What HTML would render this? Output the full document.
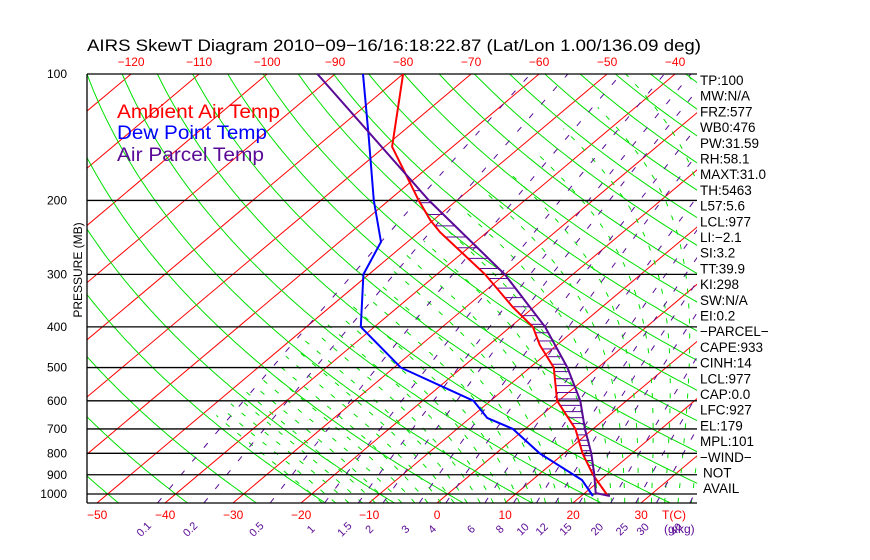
<!DOCTYPE html>
<html><head><meta charset="utf-8"><style>
html,body{margin:0;padding:0;background:#fff;}
svg{display:block;font-family:"Liberation Sans","DejaVu Sans",sans-serif;}
</style></head><body>
<svg id="c" width="870" height="560" viewBox="0 0 870 560">
<defs><clipPath id="plot"><rect x="87" y="74" width="610" height="429"/></clipPath></defs>
<g id="bg" clip-path="url(#plot)"></g>
<g id="grid"></g>
<g id="data" clip-path="url(#plot)"></g>
<g id="labels"></g>
</svg>
<script>
const pressureTicks=[100,200,300,400,500,600,700,800,900,1000];
const tempTicks=[-50,-40,-30,-20,-10,0,10,20,30];
const topTempTicks=[-120,-110,-100,-90,-80,-70,-60,-50,-40];
const mixRatios=[0.1,0.2,0.5,1,1.5,2,3,4,6,8,10,12,15,20,25,30,40];
const envP=[100,149,200,223,238,300,359,400,442,500,600,700,800,900,1011];
const envT=[-80,-68.9,-55.6,-50.4,-46.9,-32.9,-23.1,-16.7,-12.5,-6.5,-0.2,7.4,12.7,18.0,23.9];
const dewP=[100,141,200,251,300,400,500,600,659,700,800,926,1011];
const dewT=[-85.9,-74.1,-62.2,-53.9,-50.8,-42.0,-29.0,-12.5,-7.5,-1.8,6.4,17.3,21.7];
const parP=[100,200,300,400,500,600,700,800,900,995,1011];
const parT=[-92.6,-54.1,-30.0,-14.9,-4.5,3.2,8.8,14.0,18.2,21.6,24.2];
const stats=["TP:100","MW:N/A","FRZ:577","WB0:476","PW:31.59","RH:58.1","MAXT:31.0","TH:5463","L57:5.6","LCL:977","LI:\u22122.1","SI:3.2","TT:39.9","KI:298","SW:N/A","EI:0.2","\u2212PARCEL\u2212","CAPE:933","CINH:14","LCL:977","CAP:0.0","LFC:927","EL:179","MPL:101","\u2212WIND\u2212","NOT","AVAIL"];

const NS="http://www.w3.org/2000/svg";
const Y=p=>74+182.4*Math.log(p/100);
const X=(T,p)=>437+6.8*T+(503-Y(p))*1.189;
function el(tag,attrs,parent){const e=document.createElementNS(NS,tag);for(const k in attrs)e.setAttribute(k,attrs[k]);parent.appendChild(e);return e;}
const bg=document.getElementById('bg'),grid=document.getElementById('grid'),data=document.getElementById('data'),labels=document.getElementById('labels');
function poly(pts,stroke,w,dash,parent,name){const a={points:pts.map(q=>q[0].toFixed(1)+','+q[1].toFixed(1)).join(' '),fill:'none',stroke:stroke,'stroke-width':w};if(dash)a['stroke-dasharray']=dash;const e=el('polyline',a,parent);


return e;}
const plist=[];for(let p=1050;p>=100;p-=5)plist.push(p);
for(let T=-160;T<=50;T+=10){poly([[X(T,1050),Y(1050)],[X(T,100),Y(100)]],'#ff0000',1,null,bg,'isotherm');}
for(let th=-120;th<=200;th+=10){const K=th+273.15;poly(plist.map(p=>{const T=K*Math.pow(p/1000,0.2857)-273.15;return [X(T,p),Y(p)];}),'#00e000',1,null,bg,'dry-adiabat');}
function es(T){return 6.112*Math.exp(17.67*T/(T+243.5));}
function rs(T,p){const e=es(T);return 0.622*e/(p-e);}
function dTdlnp(T,p){const Tk=T+273.15,r=rs(T,p),L=2.5e6,Rd=287,cp=1004;return (Rd*Tk+L*r)/(cp+L*L*r*0.622/(Rd*Tk*Tk));}
for(let tw=-20;tw<=40;tw+=2){let pts=[];let T=tw,p=1000;
 let Td=tw,pd=1000;const down=[];while(pd<1050){const dl=Math.log((pd+2)/pd);Td+=dTdlnp(Td,pd)*dl;pd+=2;down.push([X(Td,pd),Y(pd)]);}
 pts=down.reverse();pts.push([X(T,p),Y(p)]);
 while(p>100){const np=p-5;const dl=Math.log(np/p);T+=dTdlnp(T,p)*dl;p=np;if(T<-48)break;pts.push([X(T,p),Y(p)]);}
 poly(pts,'#00e000',1,'5 10',bg,'moist-adiabat');}
function tFromW(w,p){const e=w*p/(622+w);const l=Math.log(e/6.112);return 243.5*l/(17.67-l);}
for(const w of mixRatios){poly(plist.filter(p=>p%25===0||p===1050).map(p=>[X(tFromW(w,p),p),Y(p)]),'#5a0a96',1,'6 12',bg,'mixing-ratio-line');}
for(const p of pressureTicks){const l=el('line',{x1:87,x2:697,y1:Y(p),y2:Y(p),stroke:'#000','stroke-width':1.3},grid);


const t=el('text',{x:67,y:Y(p)+4,'text-anchor':'end','font-size':12,fill:'#000'},labels);t.textContent=p;

}
const bl=el('line',{x1:87,x2:697,y1:503,y2:503,stroke:'#000','stroke-width':1.3},grid);


const ll=el('line',{x1:87,x2:87,y1:74,y2:503,stroke:'#000','stroke-width':1.3},grid);


function interp(P,Tv,p){const lp=Math.log(p);for(let i=0;i<P.length-1;i++){const a=Math.log(P[i]),b=Math.log(P[i+1]);if(lp>=a&&lp<=b)return Tv[i]+(Tv[i+1]-Tv[i])*(lp-a)/(b-a);}return null;}
for(let y=491;y>190;){const p=100*Math.exp((y-74)/182.4);const te=interp(envP,envT,p),tp=interp(parP,parT,p);
 if(te!==null&&tp!==null&&tp>te){const h=el('line',{x1:X(te,p),x2:X(tp,p),y1:y,y2:y,stroke:'#5a0a96','stroke-width':1},data);
 
 }
 y-=4+(491-y)*0.028;}
poly(envP.map((p,i)=>[X(envT[i],p),Y(p)]),'#ff0000',2,null,data,'ambient-temp-line');
poly(dewP.map((p,i)=>[X(dewT[i],p),Y(p)]),'#0000ff',2,null,data,'dewpoint-line');
poly(parP.map((p,i)=>[X(parT[i],p),Y(p)]),'#5a0a96',2,null,data,'parcel-temp-line');
for(const T of tempTicks){const t=el('text',{x:X(T,1050),y:519,'text-anchor':'middle','font-size':12,fill:'#ff0000'},labels);t.textContent=(T<0?'\u2212'+(-T):T);

}
for(const T of topTempTicks){const t=el('text',{x:X(T,100),y:66,'text-anchor':'middle','font-size':12,fill:'#ff0000'},labels);t.textContent='\u2212'+(-T);

}
for(const w of mixRatios){const x=X(tFromW(w,1050),1050)-14;const t=el('text',{x:x,y:533,'text-anchor':'middle','font-size':11,fill:'#5a0a96',transform:`rotate(-45 ${x} 529)`},labels);t.textContent=w;

}
stats.forEach((s,i)=>{const t=el('text',{x:i>=25?703:700,y:85+i*15.7,'font-size':13.5,fill:'#000'},labels);t.textContent=s;

});
</script>
<svg style="position:absolute;left:0;top:0" width="870" height="560">
<text x="87" y="51" font-size="17" textLength="614" lengthAdjust="spacingAndGlyphs" fill="#000" font-family="Liberation Sans, sans-serif">AIRS SkewT Diagram 2010−09−16/16:18:22.87 (Lat/Lon 1.00/136.09 deg)</text>
<text x="117" y="118" font-size="19" textLength="163" lengthAdjust="spacingAndGlyphs" fill="#ff0000" font-family="Liberation Sans, sans-serif">Ambient Air Temp</text>
<text x="117" y="139" font-size="19" textLength="150" lengthAdjust="spacingAndGlyphs" fill="#0000ff" font-family="Liberation Sans, sans-serif">Dew Point Temp</text>
<text x="117" y="161" font-size="19" textLength="147" lengthAdjust="spacingAndGlyphs" fill="#5a0a96" font-family="Liberation Sans, sans-serif">Air Parcel Temp</text>
<text x="82" y="270" font-size="12" fill="#000" text-anchor="middle" transform="rotate(-90 82 270)" font-family="Liberation Sans, sans-serif">PRESSURE (MB)</text>
<text x="662" y="519" font-size="12" fill="#ff0000" font-family="Liberation Sans, sans-serif">T(C)</text>
<text x="664" y="533" font-size="12" fill="#5a0a96" font-family="Liberation Sans, sans-serif">(g/kg)</text>
</svg>
</body></html>
